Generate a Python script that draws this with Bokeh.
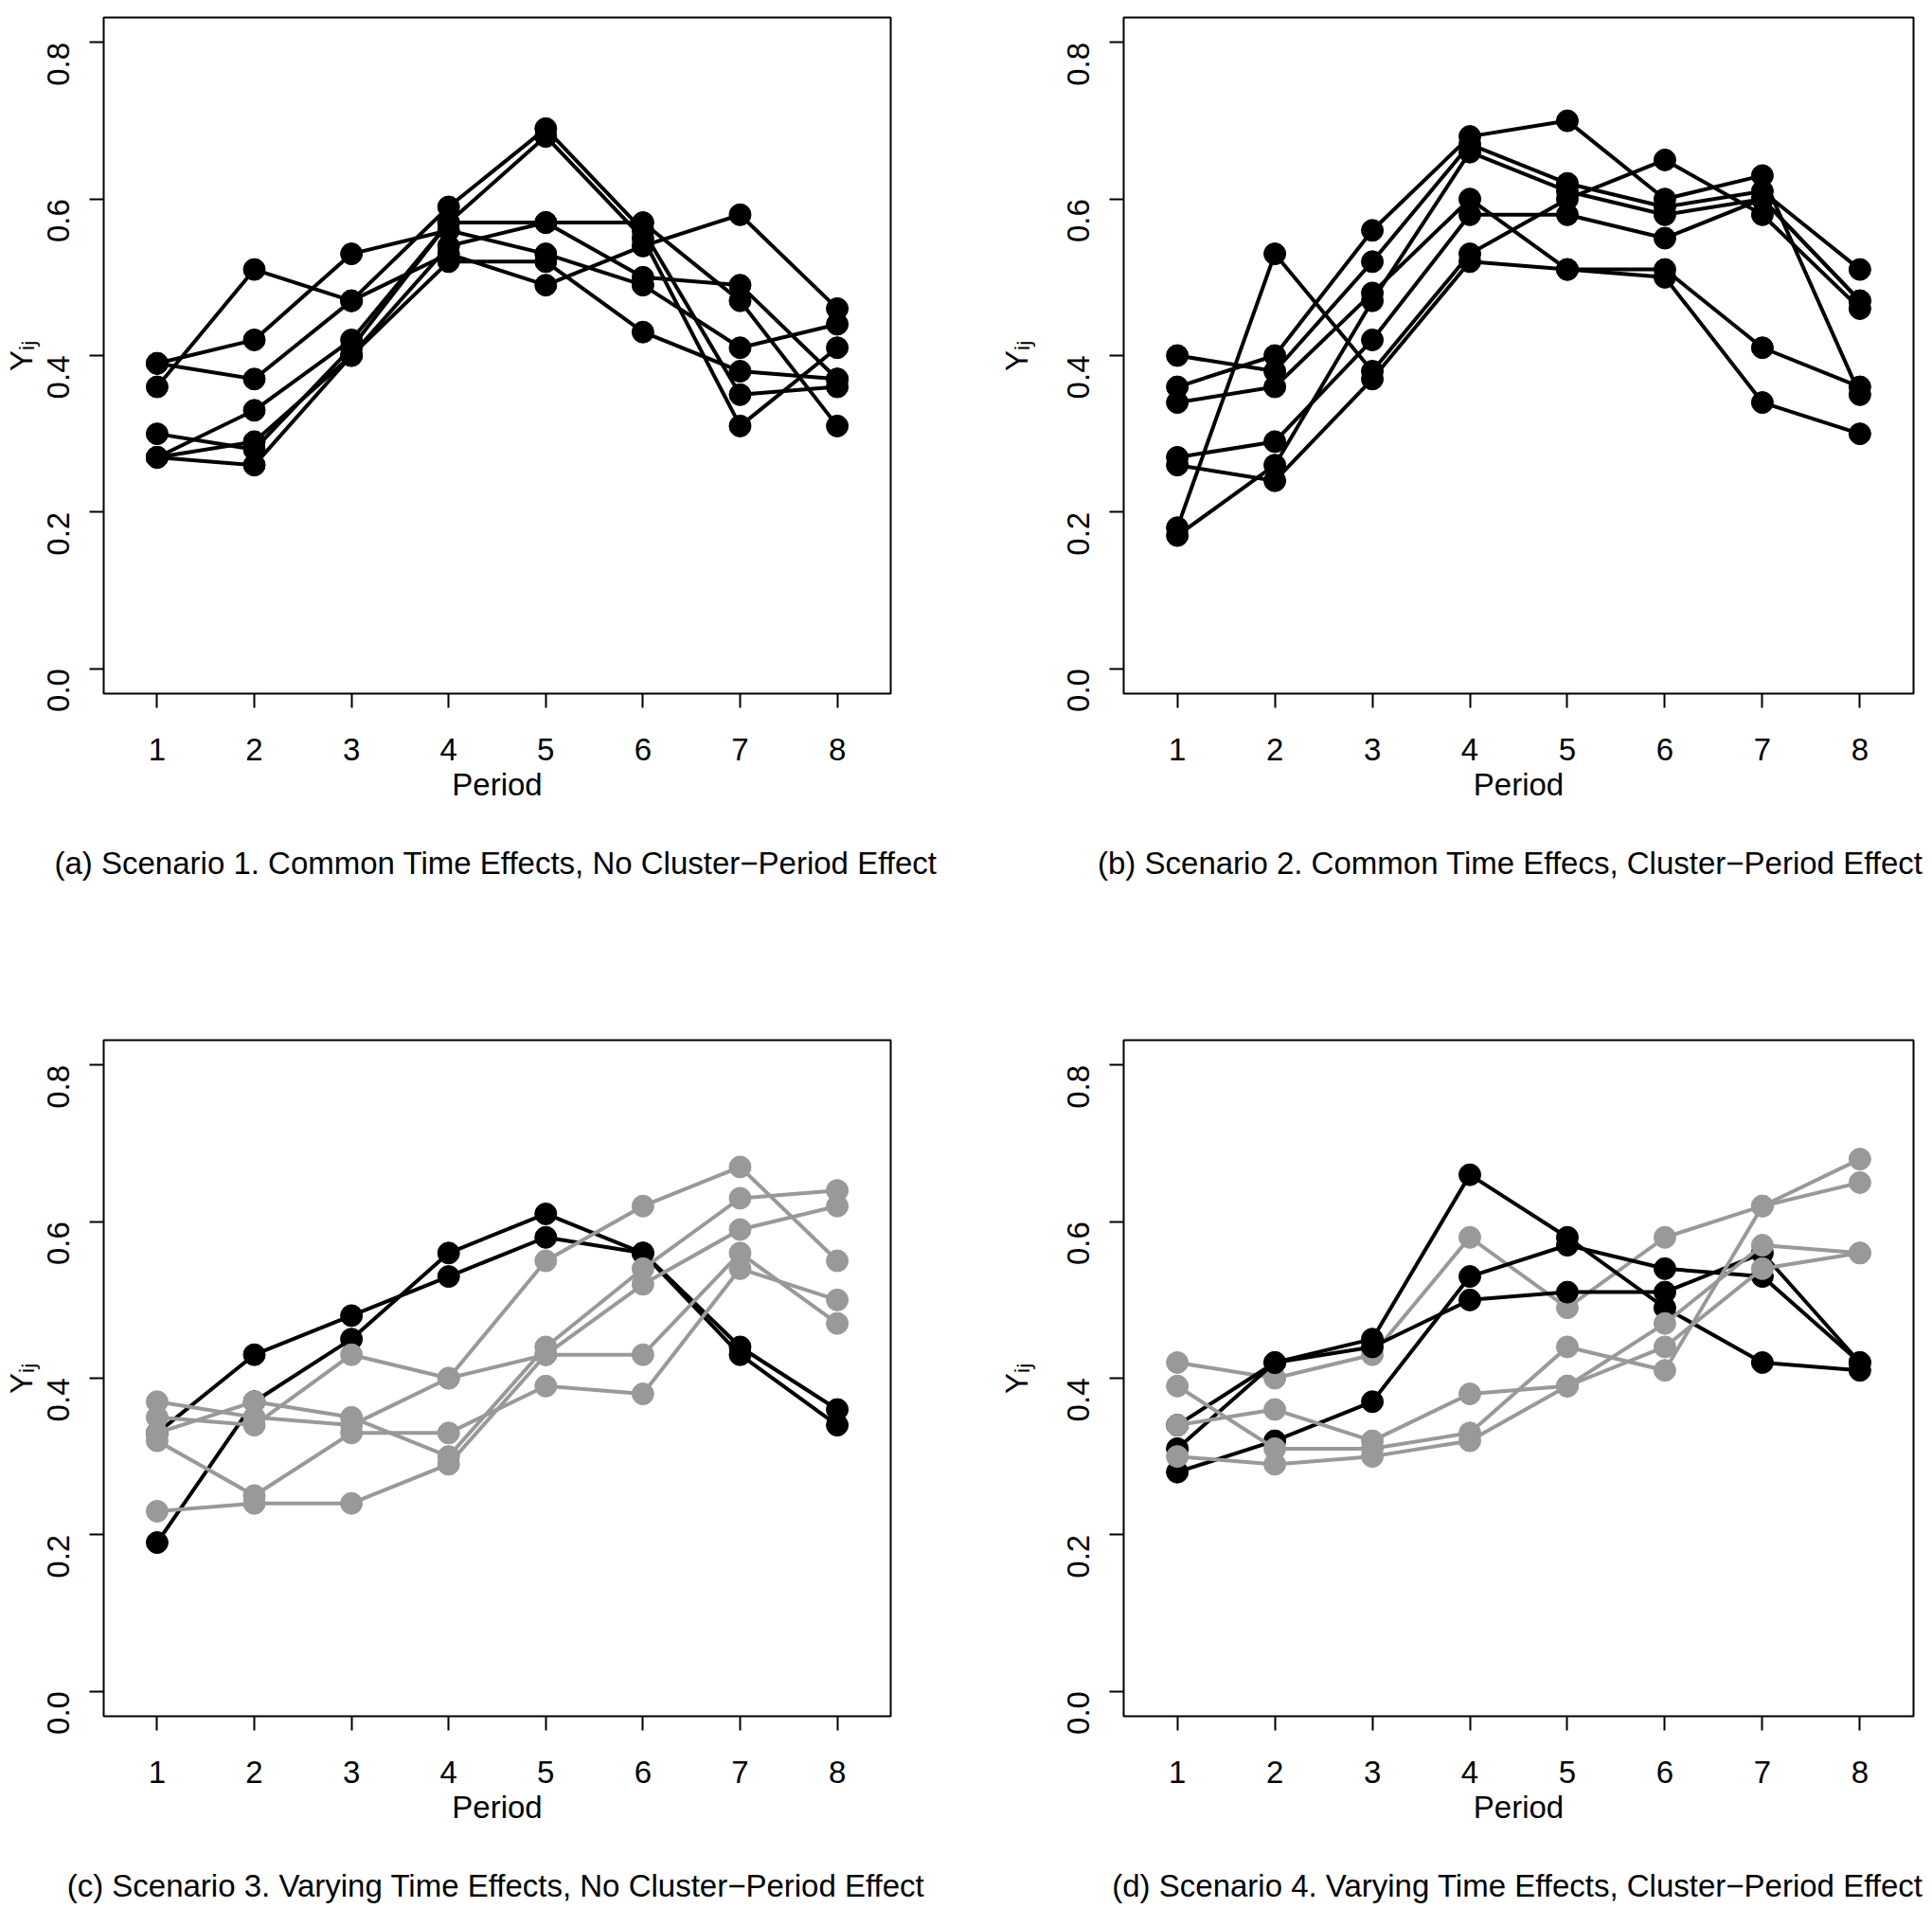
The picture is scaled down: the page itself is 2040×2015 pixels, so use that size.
import math
from bokeh.plotting import figure
from bokeh.models import Range1d, FixedTicker, PrintfTickFormatter
from bokeh.core.properties import value
from bokeh.layouts import row, column
from bokeh.embed import file_html
from bokeh.resources import INLINE

# ---------------- data ----------------
periods = [1, 2, 3, 4, 5, 6, 7, 8]
y_ticks = [0.0, 0.2, 0.4, 0.6, 0.8]

# Scenario 1: common time effects, no cluster-period effect (all clusters black)
s1_c1 = [0.36, 0.51, 0.47, 0.59, 0.69, 0.56, 0.35, 0.36]
s1_c2 = [0.39, 0.42, 0.53, 0.56, 0.53, 0.49, 0.41, 0.44]
s1_c3 = [0.39, 0.37, 0.47, 0.53, 0.49, 0.54, 0.58, 0.46]
s1_c4 = [0.30, 0.28, 0.41, 0.57, 0.68, 0.55, 0.31, 0.41]
s1_c5 = [0.27, 0.33, 0.42, 0.57, 0.57, 0.57, 0.47, 0.31]
s1_c6 = [0.27, 0.29, 0.40, 0.54, 0.57, 0.50, 0.49, 0.37]
s1_c7 = [0.27, 0.26, 0.40, 0.52, 0.52, 0.43, 0.38, 0.37]
s1_group = ["black"] * 7

# Scenario 2: common time effects, cluster-period effect (all black)
s2_c1 = [0.40, 0.38, 0.52, 0.67, 0.62, 0.59, 0.61, 0.51]
s2_c2 = [0.36, 0.40, 0.56, 0.68, 0.70, 0.60, 0.63, 0.35]
s2_c3 = [0.34, 0.36, 0.48, 0.60, 0.51, 0.51, 0.41, 0.36]
s2_c4 = [0.27, 0.29, 0.42, 0.58, 0.58, 0.55, 0.60, 0.47]
s2_c5 = [0.26, 0.24, 0.37, 0.52, 0.51, 0.50, 0.34, 0.30]
s2_c6 = [0.18, 0.53, 0.38, 0.53, 0.60, 0.65, 0.58, 0.46]
s2_c7 = [0.17, 0.26, 0.47, 0.66, 0.61, 0.58, 0.60, 0.47]
s2_group = ["black"] * 7

# Scenario 3: varying time effects, no cluster-period effect
s3_c1 = [0.33, 0.43, 0.48, 0.53, 0.58, 0.56, 0.44, 0.36]
s3_c2 = [0.19, 0.37, 0.45, 0.56, 0.61, 0.56, 0.43, 0.34]
s3_c3 = [0.37, 0.35, 0.34, 0.40, 0.55, 0.62, 0.67, 0.55]
s3_c4 = [0.33, 0.37, 0.35, 0.30, 0.44, 0.54, 0.63, 0.64]
s3_c5 = [0.35, 0.34, 0.43, 0.40, 0.43, 0.43, 0.56, 0.47]
s3_c6 = [0.32, 0.25, 0.33, 0.33, 0.39, 0.38, 0.54, 0.50]
s3_c7 = [0.23, 0.24, 0.24, 0.29, 0.43, 0.52, 0.59, 0.62]
s3_group = ["black", "black", "gray", "gray", "gray", "gray", "gray"]

# Scenario 4: varying time effects, cluster-period effect
s4_c1 = [0.42, 0.40, 0.43, 0.58, 0.49, 0.58, 0.62, 0.68]
s4_c2 = [0.34, 0.42, 0.45, 0.66, 0.58, 0.49, 0.42, 0.41]
s4_c3 = [0.31, 0.42, 0.44, 0.50, 0.51, 0.51, 0.56, 0.42]
s4_c4 = [0.28, 0.32, 0.37, 0.53, 0.57, 0.54, 0.53, 0.42]
s4_c5 = [0.39, 0.31, 0.31, 0.33, 0.44, 0.41, 0.62, 0.65]
s4_c6 = [0.34, 0.36, 0.32, 0.38, 0.39, 0.47, 0.57, 0.56]
s4_c7 = [0.30, 0.29, 0.30, 0.32, 0.39, 0.44, 0.54, 0.56]
s4_group = ["gray", "black", "black", "black", "gray", "gray", "gray"]

captions = [
    "(a) Scenario 1. Common Time Effects, No Cluster\u2212Period Effect",
    "(b) Scenario 2. Common Time Effecs, Cluster\u2212Period Effect",
    "(c) Scenario 3. Varying Time Effects, No Cluster\u2212Period Effect",
    "(d) Scenario 4. Varying Time Effects, Cluster\u2212Period Effect",
]
x_title = "Period"
y_title = "Y\u1d62\u2c7c"

# ---------------- style / layout ----------------
FONT = "Liberation Sans"
FS = "33px"
COLORS = {"black": "#000000", "gray": "#999999"}
XMIN, XMAX = 0.45, 8.55
YMIN, YMAX = -0.032, 0.832
FRAME_W, FRAME_H = 834, 714

L_BL, L_BR = 106, 106          # left column borders
R_BL, R_BR = 140, 12           # right column borders
BT, BB = 18, 140               # panel top / bottom borders
CAP1_H, CAP2_H = 208, 61       # caption strip heights
CAP_Y = 38.7                   # caption centre below strip top (px)


def make_panel(series, groups, bl, br, ylab_standoff):
    p = figure(width=bl + FRAME_W + br, height=BT + FRAME_H + BB,
               x_range=Range1d(XMIN, XMAX), y_range=Range1d(YMIN, YMAX),
               output_backend="svg", toolbar_location=None,
               min_border_left=bl, min_border_right=br,
               min_border_top=BT, min_border_bottom=BB)
    p.background_fill_color = "white"
    p.border_fill_color = "white"
    p.xgrid.visible = False
    p.ygrid.visible = False
    p.outline_line_color = "black"
    p.outline_line_width = 2
    p.outline_line_alpha = 1.0

    for ax in (p.xaxis[0], p.yaxis[0]):
        ax.axis_line_color = None
        ax.major_tick_in = 0
        ax.major_tick_out = 15
        ax.major_tick_line_width = 2
        ax.minor_tick_line_color = None
        ax.major_label_text_font = FONT
        ax.major_label_text_font_size = FS
        ax.major_label_text_color = "black"
        ax.axis_label_text_font = FONT
        ax.axis_label_text_font_size = FS
        ax.axis_label_text_font_style = "normal"
        ax.axis_label_text_color = "black"

    p.xaxis[0].ticker = FixedTicker(ticks=periods)
    p.xaxis[0].major_label_standoff = 32
    p.xaxis[0].axis_label = x_title
    p.xaxis[0].axis_label_standoff = 4
    p.yaxis[0].ticker = FixedTicker(ticks=y_ticks)
    p.yaxis[0].formatter = PrintfTickFormatter(format="%.1f")
    p.yaxis[0].major_label_orientation = math.pi / 2
    p.yaxis[0].major_label_standoff = 33
    p.yaxis[0].axis_label = y_title
    p.yaxis[0].axis_label_standoff = ylab_standoff

    for s, g in zip(series, groups):
        c = COLORS[g]
        p.line(periods, s, line_color=c, line_width=4)
        p.scatter(periods, s, size=23, marker="circle", fill_color=c, line_color=c)
    return p


def make_caption(text, width, height, x_px, align):
    c = figure(width=width, height=height,
               x_range=Range1d(0, width), y_range=Range1d(height, 0),
               output_backend="svg", toolbar_location=None,
               x_axis_location=None, y_axis_location=None,
               min_border_left=0, min_border_right=0,
               min_border_top=0, min_border_bottom=0)
    c.xgrid.visible = False
    c.ygrid.visible = False
    c.outline_line_color = None
    c.background_fill_color = "white"
    c.border_fill_color = "white"
    c.text(x=[x_px], y=[CAP_Y], text=[text], text_align=align, text_baseline="middle",
           text_font=value(FONT), text_font_size=FS, text_color="black")
    return c


LW = L_BL + FRAME_W + L_BR
RW = R_BL + FRAME_W + R_BR

pa = make_panel([s1_c1, s1_c2, s1_c3, s1_c4, s1_c5, s1_c6, s1_c7], s1_group, L_BL, L_BR, -5)
pb = make_panel([s2_c1, s2_c2, s2_c3, s2_c4, s2_c5, s2_c6, s2_c7], s2_group, R_BL, R_BR, 21)
pc = make_panel([s3_c1, s3_c2, s3_c3, s3_c4, s3_c5, s3_c6, s3_c7], s3_group, L_BL, L_BR, -5)
pd_ = make_panel([s4_c1, s4_c2, s4_c3, s4_c4, s4_c5, s4_c6, s4_c7], s4_group, R_BL, R_BR, 21)

ca = make_caption(captions[0], LW, CAP1_H, L_BL + FRAME_W / 2, "center")
cb = make_caption(captions[1], RW, CAP1_H, RW - 2, "right")
cc = make_caption(captions[2], LW, CAP2_H, L_BL + FRAME_W / 2, "center")
cd = make_caption(captions[3], RW, CAP2_H, RW - 2, "right")

layout = column(row(pa, pb), row(ca, cb), row(pc, pd_), row(cc, cd))
open("out.html", "w").write(file_html(layout, INLINE))
